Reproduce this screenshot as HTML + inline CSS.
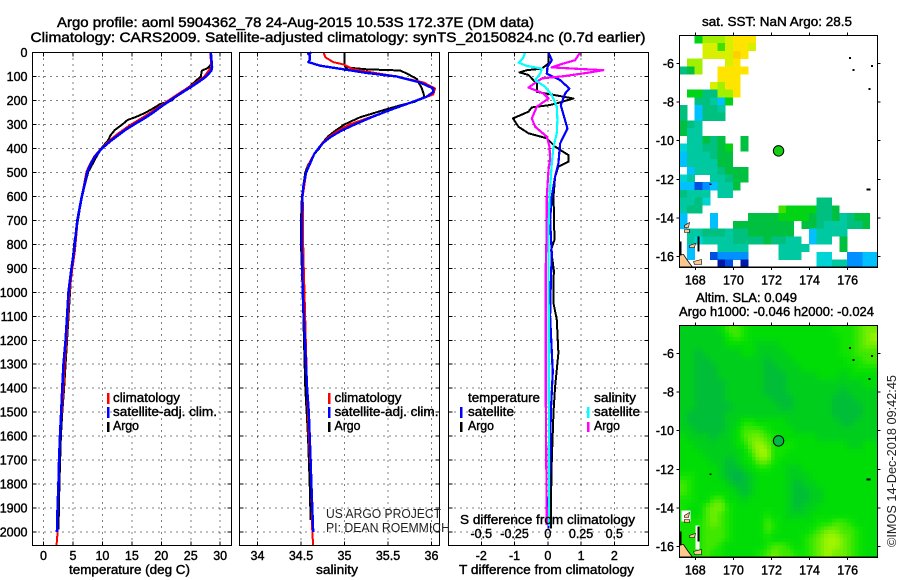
<!DOCTYPE html>
<html lang="en">
<head>
<meta charset="utf-8">
<title>Argo profile 5904362_78</title>
<style>
html,body{margin:0;padding:0;background:#fff;}
svg{display:block;}
text{font-family:"Liberation Sans",sans-serif;fill:#000;}
.b{font-weight:normal;font-size:12.5px;stroke:#000;stroke-width:0.4px;}
.t{font-weight:normal;font-size:14px;stroke:#000;stroke-width:0.45px;}
.m{font-weight:normal;font-size:13px;fill:#222;}
</style>
</head>
<body>
<svg id="chart" xmlns="http://www.w3.org/2000/svg" width="900" height="580" viewBox="0 0 900 580">
  <rect x="0" y="0" width="900" height="580" fill="#fff"/>
  <g id="layer-marks"></g>

  <text class="t" x="57" y="27" textLength="477" lengthAdjust="spacingAndGlyphs">Argo profile: aoml 5904362_78 24-Aug-2015 10.53S 172.37E (DM data)</text>
  <text class="t" x="30.5" y="42" textLength="615" lengthAdjust="spacingAndGlyphs">Climatology: CARS2009. Satellite-adjusted climatology: synTS_20150824.nc (0.7d earlier)</text>

  <text class="b" x="69" y="574" textLength="121" lengthAdjust="spacingAndGlyphs">temperature (deg C)</text>
  <text class="b" x="316" y="574" textLength="42" lengthAdjust="spacingAndGlyphs">salinity</text>
  <text class="b" x="459" y="574" textLength="175" lengthAdjust="spacingAndGlyphs">T difference from climatology</text>
  <text class="b" x="460" y="524" textLength="175" lengthAdjust="spacingAndGlyphs">S difference from climatology</text>

  <g>
    <rect x="107" y="393" width="2.5" height="11" fill="#ff0000"/>
    <rect x="107" y="407" width="2.5" height="11" fill="#0000ff"/>
    <rect x="107" y="422" width="2.5" height="10" fill="#000"/>
    <text class="b" x="113" y="402" textLength="67" lengthAdjust="spacingAndGlyphs">climatology</text>
    <text class="b" x="113" y="416" textLength="104" lengthAdjust="spacingAndGlyphs">satellite-adj. clim.</text>
    <text class="b" x="113" y="430" textLength="26" lengthAdjust="spacingAndGlyphs">Argo</text>
  </g>
  <g>
    <rect x="328" y="393" width="2.5" height="11" fill="#ff0000"/>
    <rect x="328" y="407" width="2.5" height="11" fill="#0000ff"/>
    <rect x="328" y="422" width="2.5" height="10" fill="#000"/>
    <text class="b" x="334.5" y="402" textLength="67" lengthAdjust="spacingAndGlyphs">climatology</text>
    <text class="b" x="334.5" y="416" textLength="104" lengthAdjust="spacingAndGlyphs">satellite-adj. clim.</text>
    <text class="b" x="334.5" y="430" textLength="26" lengthAdjust="spacingAndGlyphs">Argo</text>
  </g>
  <g>
    <text class="b" x="468" y="402" textLength="72" lengthAdjust="spacingAndGlyphs">temperature</text>
    <rect x="460" y="407" width="2.5" height="11" fill="#0000ff"/>
    <text class="b" x="468" y="416" textLength="46" lengthAdjust="spacingAndGlyphs">satellite</text>
    <rect x="460" y="422" width="2.5" height="10" fill="#000"/>
    <text class="b" x="468" y="430" textLength="26" lengthAdjust="spacingAndGlyphs">Argo</text>
    <text class="b" x="594" y="402" textLength="42" lengthAdjust="spacingAndGlyphs">salinity</text>
    <rect x="587" y="407" width="2.5" height="11" fill="#00ffff"/>
    <text class="b" x="594" y="416" textLength="46" lengthAdjust="spacingAndGlyphs">satellite</text>
    <rect x="587" y="422" width="2.5" height="10" fill="#ff00ff"/>
    <text class="b" x="594" y="430" textLength="26" lengthAdjust="spacingAndGlyphs">Argo</text>
  </g>

  <text class="m" x="326" y="518" textLength="115" lengthAdjust="spacingAndGlyphs">US ARGO PROJECT</text>
  <text class="m" x="326" y="532" textLength="124" lengthAdjust="spacingAndGlyphs">PI: DEAN ROEMMICH</text>

  <text class="b" x="702" y="26" textLength="150" lengthAdjust="spacingAndGlyphs">sat. SST: NaN Argo: 28.5</text>
  <text class="b" x="696" y="302" textLength="101" lengthAdjust="spacingAndGlyphs">Altim. SLA: 0.049</text>
  <text class="b" x="679" y="316" textLength="195" lengthAdjust="spacingAndGlyphs">Argo h1000: -0.046 h2000: -0.024</text>
  <text class="m" x="892" y="461" text-anchor="middle" transform="rotate(-90 892 461) translate(0 4)" textLength="172" lengthAdjust="spacingAndGlyphs">©IMOS 14-Dec-2018 09:42:45</text>
</svg>

<script>
// ---------- chart data ----------
const depthTicks = [0,100,200,300,400,500,600,700,800,900,1000,1100,1200,1300,1400,1500,1600,1700,1800,1900,2000];
const tempTicks = [0,5,10,15,20,25,30];
const salTicks = [34,34.5,35,35.5,36];
const salTickLabels = ["34","34.5","35","35.5","36"];
const tDiffTicks = [-2,-1,0,1,2];
const sDiffTicks = [-0.5,-0.25,0,0.25,0.5];
const sDiffTickLabels = ["-0.5","-0.25","0","0.25","0.5"];
const lonTicks = [168,170,172,174,176];
const latTicks = [-6,-8,-10,-12,-14,-16];

const tempClimDepth = [0,60,100,125,150,175,200,225,250,275,298,323,345,365,400,434,465,497,560,601,698,824,900,1000,1200,1300,1400,1500,1600,1700,1800,1900,2000,2056];
const tempClimValue = [28.3,28.5,27.3,25.9,24.3,22.7,21.2,19.7,18.2,16.6,15.0,13.5,12.3,11.3,9.8,8.6,7.9,7.3,6.8,6.5,5.8,5.35,4.9,4.4,3.9,3.6,3.4,3.1,2.75,2.7,2.55,2.4,2.4,2.2];
const tempSatDepth = [0,60,75,100,125,150,175,200,225,250,275,298,323,345,365,400,434,465,497,560,601,698,824,900,1000,1100,1200,1300,1400,1500,1600,1700,1800,1900,2000];
const tempSatValue = [28.4,28.6,28.5,27.6,26.2,24.6,23.0,21.5,20.0,18.6,17.1,15.5,13.85,12.7,11.6,9.9,8.75,8.0,7.45,6.9,6.5,5.75,5.2,4.75,4.25,4.0,3.75,3.4,3.2,3.0,2.8,2.65,2.55,2.4,2.3];
const tempArgoDepth = [0,50,65,75,100,150,170,200,215,230,250,270,281,300,323,345,365,400,434,480,497,600,800,900,1000,1300,1400,1500,1600,1800,1990];
const tempArgoValue = [28.4,28.4,27.9,26.9,26.7,24.4,23.0,21.8,19.8,18.8,17.4,15.6,14.3,13.4,12.1,11.4,11.0,9.8,9.0,8.0,7.6,6.5,5.2,4.8,4.5,3.75,3.5,3.2,2.95,2.7,2.55];

const salClimDepth = [0,20,40,50,70,100,125,150,175,200,250,300,325,350,375,400,425,450,475,500,600,830,1000,1400,1600,1800,2000,2056];
const salClimValue = [34.76,34.78,34.87,34.99,35.1,35.6,35.91,36.04,36.02,35.83,35.45,35.06,34.93,34.83,34.75,34.70,34.65,34.61,34.58,34.56,34.52,34.526,34.54,34.57,34.59,34.62,34.63,34.64];
const salSatDepth = [0,5,10,30,40,55,70,85,100,125,150,165,185,210,240,270,300,325,350,375,400,425,450,475,500,550,600,700,800,1000,1400,1500,1600,1700,1800,1900,2000];
const salSatValue = [34.62,34.58,34.6,34.6,34.585,34.72,34.99,35.25,35.6,35.87,36.02,36.02,35.94,35.75,35.52,35.31,35.12,34.97,34.85,34.76,34.70,34.65,34.62,34.59,34.56,34.53,34.515,34.51,34.51,34.52,34.57,34.59,34.6,34.61,34.62,34.63,34.64];
const salArgoDepth = [0,50,62,70,75,90,110,150,185,205,220,240,270,300,325,350,375,400,425,450,475,500,600,700,800,1000,1400,1600,1800,1950];
const salArgoValue = [35.0,35.0,35.01,35.25,35.64,35.73,35.83,35.89,35.92,35.81,35.64,35.45,35.18,35.0,34.9,34.81,34.75,34.71,34.65,34.61,34.575,34.55,34.51,34.5,34.5,34.52,34.55,34.58,34.6,34.61];

const tDiffSatDepth = [0,32,60,88,115,150,171,220,268,317,380,462,518,601,699,840,960,1100,1250,1330,1500,1700,1900,1985];
const tDiffSatValue = [0.02,0.12,-0.01,-0.03,0.37,0.65,0.52,0.39,0.49,0.59,0.37,0.32,0.22,0.12,0.07,0.12,0.09,0.07,0.12,0.15,0.09,0.07,0.02,0.02];
const tDiffArgoDepth = [0,46,67,74,83,94,108,129,164,178,192,212,219,229,247,275,310,337,358,393,428,456,476,518,601,698,782,824,907,1045,1115,1254,1393,1500,1700,1900,1985];
const tDiffArgoValue = [0.02,0.02,-0.18,-0.63,-0.85,-0.58,-0.48,-0.33,-0.33,0.22,0.77,0.27,0.07,-0.48,-0.58,-1.05,-0.88,-0.58,-0.03,0.22,0.62,0.62,0.32,0.22,0.17,0.19,0.2,0.1,0.18,0.17,0.27,0.32,0.22,0.17,0.12,0.09,0.09];
const sDiffSatDepth = [0,25,42,56,67,88,115,143,178,226,282,337,393,462,601,740,1975];
const sDiffSatValue = [-0.17,-0.1875,-0.22,-0.158,-0.045,-0.0575,-0.095,-0.02,0.03,0.0675,0.0725,0.0675,0.0425,0.03,0.0125,0.005,0.01];
const sDiffArgoDepth = [0,32,46,62,67,74,85,99,108,122,146,171,192,226,275,310,351,393,442,490,601,740,900,1400,1970];
const sDiffArgoValue = [0.2425,0.205,0.1175,0.03,0.1925,0.4175,0.2925,0.1175,-0.045,-0.0825,-0.145,-0.0325,0.005,-0.0825,-0.12,-0.095,-0.0075,0.0125,0.0175,0.005,-0.0075,-0.0075,-0.016,-0.016,-0.0075];

const _ = null;
// SST colour level per cell (rows north to south), blank = cloud
const sstRows = [
[_,_,8,10,10,10,11,12,12,12],
[_,_,_,11,11,9,11,12,12,11],
[_,_,_,11,11,11,11,13,12],
[_,10,10,_,_,_,11,12],
[6,7,10,_,_,12,12,12,12],
[_,_,_,_,_,12,12,12],
[_,_,_,_,11,10,12,12],
[_,8,8,6,6,10,10,12],
[_,_,6,6,5,3,8],
[6,_,3,6,6,5],
[6,_,3,6,6,6],
[7,6,5],
[7,5,5],
[_,5,5,7,6,7,_,_,7],
[4,5,5,6,6,7,8,_,7],
[3,5,5,5,6,7,7],
[3,5,5,5,5,7,7],
[_,3,5,5,5,6,7,7,7],
[4,5,_,_,5,5,6,7,7],
[3,3,1,2,3,5,5,7],
[6,5,5,5,_,5,5],
[5,5,6,4,_,_,_,_,_,_,_,_,_,_,_,_,_,_,6,6],
[5,6,6,_,_,_,_,_,_,_,_,_,_,9,8,8,8,8,6,6,7],
[3,_,_,_,3,_,_,_,_,7,7,7,7,8,8,8,8,7,6,6,7,5,6,7,7],
[3,_,_,_,3,_,_,7,7,7,7,7,7,7,7,_,7,7,6,5,5,5,6,6,7],
[_,5,5,6,6,6,5,6,6,7,7,7,7,7,7,_,_,3,5,5,5,5],
[_,5,4,5,5,5,5,6,6,6,6,7,6,6,5,5,_,3,5,5,_,7],
[_,3,_,_,_,5,5,5,5,_,_,_,_,5,5,5,5,_,_,_,_,7],
[_,3,_,_,1,2,2,2,2,_,_,_,_,5,5,5,_,_,4,4,_,_,2,2,3,3],
[2,_,_,_,_,0,1,_,0,_,_,_,_,_,_,_,_,_,4,4,5,5,2,2,3,3]
];
// Altimetry SLA colour level per cell (rows north to south)
const slaRows = [
[2,2,2,2,2,3,5,5,4,3,3,3,3,3,3,3,3,3,3,3,4,4,4,5,6,6],
[2,2,2,2,2,2,4,5,4,3,3,3,3,3,3,3,3,3,3,3,3,4,4,5,6,7],
[2,2,2,2,2,2,3,3,3,3,2,2,2,3,3,3,3,3,3,3,3,4,4,5,6,6],
[2,2,1,2,2,2,2,2,3,3,2,2,2,2,3,3,3,3,3,3,3,4,4,5,5,5],
[2,2,1,1,2,2,2,2,2,2,2,1,2,2,2,3,3,3,3,3,3,3,4,4,5,5],
[2,2,1,1,1,2,2,2,2,2,2,1,1,2,2,2,3,3,3,3,3,3,3,4,4,4],
[2,2,1,1,1,2,2,2,2,2,2,1,1,1,2,2,2,2,3,3,3,2,3,3,3,3],
[2,2,1,1,1,1,2,2,2,2,2,1,1,1,2,2,2,2,2,2,2,2,2,2,3,3],
[2,2,1,1,1,1,2,2,2,2,2,1,1,1,2,2,2,2,2,2,2,1,2,2,2,2],
[2,2,1,1,1,1,2,2,2,2,2,2,1,1,1,2,2,2,2,2,1,1,1,2,2,2],
[2,2,1,1,1,1,1,2,2,2,2,2,2,1,1,2,2,2,2,2,1,1,1,1,2,2],
[2,1,1,1,1,1,2,2,2,2,2,2,2,2,2,2,2,2,2,2,1,1,1,1,2,2],
[2,1,1,1,1,1,2,2,4,4,3,3,3,3,2,2,2,2,2,2,2,1,1,2,2,2],
[2,2,1,1,1,1,2,3,5,5,5,4,3,3,3,2,2,2,2,2,2,2,2,2,2,2],
[3,2,2,2,1,2,2,3,5,6,6,5,4,3,3,3,3,3,2,2,2,2,2,2,2,2],
[3,3,2,2,2,2,2,3,4,6,7,6,4,4,4,3,3,3,3,3,3,3,2,2,3,3],
[3,3,3,2,2,2,2,2,3,5,7,7,4,4,3,3,3,3,3,3,3,3,3,3,3,3],
[3,3,3,3,2,2,1,2,3,4,6,6,4,3,3,3,3,3,3,3,3,3,3,3,3,3],
[3,3,3,3,3,2,1,1,2,3,4,4,3,3,2,2,3,3,3,3,3,3,3,3,3,3],
[4,4,3,3,3,2,1,0,1,2,3,3,3,3,2,2,2,3,3,3,3,3,3,3,3,3],
[5,4,3,3,3,3,2,1,1,2,3,3,3,3,2,1,2,2,3,3,3,3,3,3,3,3],
[5,4,3,3,3,3,3,2,1,2,3,3,3,3,2,1,1,2,2,3,3,3,3,3,3,3],
[4,4,3,3,5,5,3,3,2,3,3,3,3,3,2,1,1,2,2,3,3,3,3,3,3,3],
[4,3,3,5,6,6,4,3,3,3,3,3,3,3,2,1,2,2,3,3,3,3,3,3,3,3],
[4,3,3,5,6,5,4,3,3,3,3,4,3,3,2,2,2,3,3,3,3,3,3,3,3,3],
[4,4,4,5,6,5,4,3,3,3,3,5,4,3,3,3,3,3,4,4,5,5,4,3,3,3],
[4,4,4,5,5,5,4,3,3,3,3,5,4,3,3,3,3,4,5,6,6,5,5,4,3,3],
[4,4,4,5,5,5,4,3,3,3,3,4,3,3,3,3,4,5,6,7,7,6,5,4,3,3],
[4,4,4,5,5,4,3,3,3,3,3,4,5,5,4,3,4,5,6,7,7,6,5,4,3,3],
[4,4,4,5,4,4,3,3,3,3,4,5,6,5,5,4,4,5,6,7,6,6,5,4,3,3]
];
const floatLon = 172.37;
const floatLat = -10.53;

// ---------- drawing ----------
const NS = "http://www.w3.org/2000/svg";
const layer = document.getElementById("layer-marks");

function mk(tag, attrs, name) {
  const el = document.createElementNS(NS, tag);
  for (const k in attrs) el.setAttribute(k, attrs[k]);
  
  
  layer.appendChild(el);
  return el;
}
function label(str, x, y, anchor, name) {
  const el = mk("text", {x: x, y: y, "text-anchor": anchor, class: "b"}, name);
  el.textContent = str;
  return el;
}
function hv(x1, y1, x2, y2, name, dash) {
  const a = {x1: x1, y1: y1, x2: x2, y2: y2, stroke: "#000", "stroke-width": 1, "shape-rendering": "crispEdges"};
  if (dash) a["stroke-dasharray"] = dash;
  return mk("line", a, name);
}

const panelTop = 52.5, panelBottom = 545.5;
const depthY = d => 52.5 + d * 0.2398;
const tempX = v => 43.5 + v * 5.89;
const salX = v => 257.5 + (v - 34) * 87.0;
const tDiffX = v => 547.8 + v * 33.25;
const sDiffX = v => 547.8 + v * 133;

function panel(left, right, ticks, xFn, labels, withDepthLabels, prefix) {
  mk("rect", {x: left, y: panelTop, width: right - left, height: panelBottom - panelTop, fill: "#fff"}, prefix + "-panel-background");
  depthTicks.forEach(d => {
    const y = depthY(d);
    hv(left, y, right, y, prefix + "-depth-gridline", "1 5");
    hv(left, y, left + 4, y, prefix + "-depth-tick");
    hv(right - 4, y, right, y, prefix + "-depth-tick");
    if (withDepthLabels) label(String(d), 27.5, y + 4.5, "end", "depth-tick-label");
  });
  ticks.forEach((t, i) => {
    const x = xFn(t);
    hv(x, panelTop, x, panelBottom, prefix + "-x-gridline", "1 5");
    hv(x, panelBottom - 4, x, panelBottom, prefix + "-x-tick");
    hv(x, panelTop, x, panelTop + 4, prefix + "-x-tick");
    label(labels[i], x, 560, "middle", prefix + "-x-tick-label");
  });
}
function frame(left, right, prefix) {
  mk("rect", {x: left, y: panelTop, width: right - left, height: panelBottom - panelTop, fill: "none", stroke: "#000", "stroke-width": 1.2, "shape-rendering": "crispEdges"}, prefix + "-panel-frame");
}
function profile(depths, values, xFn, colour, width, name) {
  const pts = depths.map((d, i) => xFn(values[i]).toFixed(1) + "," + depthY(d).toFixed(1)).join(" ");
  return mk("polyline", {points: pts, fill: "none", stroke: colour, "stroke-width": width, "shape-rendering": "crispEdges", "stroke-linejoin": "round"}, name);
}

panel(32.5, 231.5, tempTicks, tempX, tempTicks.map(String), true, "temperature");
profile(tempArgoDepth, tempArgoValue, tempX, "#000", 2, "temperature-argo-line");
profile(tempClimDepth, tempClimValue, tempX, "#ff0000", 2, "temperature-climatology-line");
profile(tempSatDepth, tempSatValue, tempX, "#0000ff", 2.6, "temperature-satellite-line");
frame(32.5, 231.5, "temperature");

panel(239.5, 439.5, salTicks, salX, salTickLabels, false, "salinity");
profile(salArgoDepth, salArgoValue, salX, "#000", 2, "salinity-argo-line");
profile(salClimDepth, salClimValue, salX, "#ff0000", 2, "salinity-climatology-line");
profile(salSatDepth, salSatValue, salX, "#0000ff", 2.4, "salinity-satellite-line");
frame(239.5, 439.5, "salinity");

panel(448.5, 648.5, tDiffTicks, tDiffX, tDiffTicks.map(String), false, "difference");
sDiffTicks.forEach((t, i) => {
  label(sDiffTickLabels[i], sDiffX(t), 538, "middle", "s-difference-tick-label");
});
profile(tDiffArgoDepth, tDiffArgoValue, tDiffX, "#000", 2, "t-difference-argo-line");
profile(tDiffSatDepth, tDiffSatValue, tDiffX, "#0000ff", 2.2, "t-difference-satellite-line");
profile(sDiffArgoDepth, sDiffArgoValue, sDiffX, "#ff00ff", 2.2, "s-difference-argo-line");
profile(sDiffSatDepth, sDiffSatValue, sDiffX, "#00ffff", 2.2, "s-difference-satellite-line");
frame(448.5, 648.5, "difference");

// ---------- maps ----------
const sstColours = ["#0018a8","#0050e0","#0090ff","#00c0ff","#00d4d4","#00c8a0","#00c080","#00c040","#00d414","#40e000","#a0f000","#d8f000","#ffe400","#ffd000"];
const slaRamp = [[0,176,80],[0,190,56],[0,206,28],[0,220,6],[16,228,0],[64,232,0],[112,238,0],[160,244,0]];
const mapLeft = 679.5, mapRight = 877.5, mapHeight = 231.7;
const lonX = lon => 695.3 + (lon - 168) * 19.05;
const cellW = (mapRight - mapLeft) / 26, cellH = mapHeight / 30;

// continuous colour from a fractional SLA level
function slaColour(v) {
  const i = Math.max(0, Math.min(slaRamp.length - 2, Math.floor(v)));
  const f = Math.max(0, Math.min(1, v - i));
  const a = slaRamp[i], b = slaRamp[i + 1];
  return "rgb(" + [0, 1, 2].map(k => Math.round(a[k] + (b[k] - a[k]) * f)).join(",") + ")";
}
function cellFill(top, width, height, x, y, colour, name) {
  mk("rect", {x: x.toFixed(2), y: y.toFixed(2), width: (width + 0.3).toFixed(2), height: (height + 0.3).toFixed(2), fill: colour, "shape-rendering": "crispEdges"}, name);
}
// cell-centre value at half-cell resolution, so the field renders smooth
function slaSample(rows, r2, c2) {
  const r = (r2 - 0.5) / 2, c = (c2 - 0.5) / 2;
  const r0 = Math.max(0, Math.floor(r)), c0 = Math.max(0, Math.floor(c));
  const r1 = Math.min(rows.length - 1, r0 + 1), c1 = Math.min(rows[0].length - 1, c0 + 1);
  const fr = Math.max(0, r - r0), fc = Math.max(0, c - c0);
  return (rows[r0][c0] * (1 - fc) + rows[r0][c1] * fc) * (1 - fr) + (rows[r1][c0] * (1 - fc) + rows[r1][c1] * fc) * fr;
}

function drawMap(top, prefix, markerFill, whitePatches, paintCells) {
  const latY = lat => top + 27.8 + (-6 - lat) * 19.33;
  mk("rect", {x: mapLeft, y: top, width: mapRight - mapLeft, height: mapHeight, fill: "#fff"}, prefix + "-map-background");
  paintCells(top);
  if (whitePatches) {
    mk("rect", {x: mapLeft + 2, y: top + 185, width: 9, height: 11, fill: "#fff"}, prefix + "-land-gap");
    mk("rect", {x: mapLeft + 16, y: top + 200, width: 4, height: 24, fill: "#fff"}, prefix + "-land-gap");
  }
  const B = top;
  const tan = "#ffc890";
  mk("polygon", {points: [[0,219],[4,219],[8,225],[13,231.7],[0,231.7]].map(p => (mapLeft + p[0]) + "," + (B + p[1])).join(" "), fill: tan, stroke: "#000", "stroke-width": 0.8}, prefix + "-land");
  mk("polygon", {points: [[5,190],[10,187],[9,192],[5,192]].map(p => (mapLeft + p[0]) + "," + (B + p[1])).join(" "), fill: tan, stroke: "#000", "stroke-width": 0.6}, prefix + "-island");
  mk("polygon", {points: [[5,194],[10,194],[10,197],[5,197]].map(p => (mapLeft + p[0]) + "," + (B + p[1])).join(" "), fill: tan, stroke: "#000", "stroke-width": 0.6}, prefix + "-island");
  mk("polygon", {points: [[10,210],[16,208],[15,212],[10,212]].map(p => (mapLeft + p[0]) + "," + (B + p[1])).join(" "), fill: tan, stroke: "#000", "stroke-width": 0.6}, prefix + "-island");
  mk("polygon", {points: [[14,226],[22,224],[22,229],[15,229]].map(p => (mapLeft + p[0]) + "," + (B + p[1])).join(" "), fill: tan, stroke: "#000", "stroke-width": 0.6}, prefix + "-island");
  mk("polygon", {points: [[18,201],[20,201],[20,216],[18,216]].map(p => (mapLeft + p[0]) + "," + (B + p[1])).join(" "), fill: "#000"}, prefix + "-island");
  mk("polygon", {points: [[0,206],[2,206],[2,220],[0,220]].map(p => (mapLeft + p[0]) + "," + (B + p[1])).join(" "), fill: "#000"}, prefix + "-island");
  [[170.5,21.5],[174,33.5],[192.5,29.5],[190,52.5],[188,153]].forEach(p => {
    mk("rect", {x: mapLeft + p[0] - 1, y: B + p[1], width: p[0] === 188 ? 4 : 2, height: 2, fill: "#000"}, prefix + "-reef-mark");
  });
  mk("rect", {x: mapLeft + 30, y: B + 148, width: 2, height: 1.5, fill: "#000"}, prefix + "-reef-mark");
  mk("rect", {x: mapLeft, y: top, width: mapRight - mapLeft, height: mapHeight, fill: "none", stroke: "#000", "stroke-width": 1.2, "shape-rendering": "crispEdges"}, prefix + "-map-frame");
  lonTicks.forEach(lon => {
    const x = lonX(lon);
    hv(x, top - 3, x, top, prefix + "-lon-tick");
    hv(x, top + mapHeight, x, top + mapHeight + 3, prefix + "-lon-tick");
    label(String(lon), x, top + mapHeight + 17.5, "middle", prefix + "-lon-label");
  });
  latTicks.forEach(lat => {
    const y = latY(lat);
    hv(mapLeft - 3, y, mapLeft, y, prefix + "-lat-tick");
    hv(mapRight, y, mapRight + 3, y, prefix + "-lat-tick");
    label(String(lat), 674, y + 4.5, "end", prefix + "-lat-label");
  });
  mk("circle", {cx: lonX(floatLon), cy: latY(floatLat), r: 5.2, fill: markerFill, stroke: "#000", "stroke-width": 1}, prefix + "-argo-float-marker");
}
drawMap(35.5, "sst", "#10d010", false, top => {
  sstRows.forEach((row, r) => {
    row.forEach((v, c) => {
      if (v === null) return;
      cellFill(top, cellW, cellH, mapLeft + c * cellW, top + r * cellH, sstColours[v], "sst-cell");
    });
  });
});
drawMap(325.5, "altimetry", "#00b848", true, top => {
  const rows2 = slaRows.length * 2, cols2 = slaRows[0].length * 2;
  for (let r = 0; r < rows2; r++) {
    for (let c = 0; c < cols2; c++) {
      const v = slaSample(slaRows, r, c);
      cellFill(top, cellW / 2, cellH / 2, mapLeft + c * cellW / 2, top + r * cellH / 2, slaColour(v), "altimetry-cell");
    }
  }
});
</script>
</body>
</html>
